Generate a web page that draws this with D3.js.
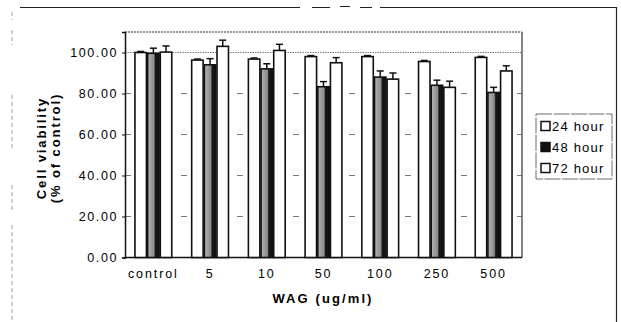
<!DOCTYPE html>
<html>
<head>
<meta charset="utf-8">
<script src="https://cdn.jsdelivr.net/npm/d3@7"></script>
<style>
  body { margin: 0; background: #fff; }
  text { font-family: "Liberation Sans", Arial, sans-serif; fill: #000; }
</style>
</head>
<body>
<div id="chart"></div>
<script>
// data
const categories = ["control", "5", "10", "50", "100", "250", "500"];
const seriesNames = ["24 hour", "48 hour", "72 hour"];
const values24 = [100.0, 96.3, 96.8, 98.0, 98.0, 95.6, 97.6];
const values48 = [99.6, 94.0, 92.0, 83.3, 88.0, 84.0, 80.5];
const values72 = [100.2, 103.0, 101.0, 95.0, 87.0, 83.0, 91.0];
const err24 = [0.5, 0.5, 0.5, 0.5, 0.5, 0.5, 0.5];
const err48 = [2.5, 3.0, 2.5, 2.5, 3.0, 2.5, 2.5];
const err72 = [3.0, 3.0, 3.0, 2.5, 3.0, 3.0, 2.5];
const yTicks = [0, 20, 40, 60, 80, 100];

const width = 621, height = 322;
const plot = { left: 125, right: 522, top: 32, bottom: 257.5 };

const svg = d3.select("#chart").append("svg")
  .attr("width", width)
  .attr("height", height);

// stippled gray fill with dark right edge for the 48 hour bars
const defs = svg.append("defs");
const grad = defs.append("linearGradient").attr("id", "g48")
  .attr("x1", "0").attr("x2", "1").attr("y1", "0").attr("y2", "0");
grad.append("stop").attr("offset", "0").attr("stop-color", "#b4b4b4");
grad.append("stop").attr("offset", "0.55").attr("stop-color", "#8c8c8c");
grad.append("stop").attr("offset", "0.68").attr("stop-color", "#151515");
grad.append("stop").attr("offset", "1").attr("stop-color", "#151515");

// scan frame lines around the figure
const frame = svg.append("g").attr("stroke", "#222").attr("fill", "none");
frame.append("path").attr("d", "M20,7.5H300M312,7.5H330M340,6.5H350M360,7.5H372M380,7.5H617").attr("stroke-width", 1);
frame.append("path").attr("d", "M616.5,7V322").attr("stroke-width", 1.2);
frame.append("path").attr("d", "M12,12V20M12,30V45M12,95V150M12,185V210M12,225V322")
  .attr("stroke-width", 0.7).attr("stroke-dasharray", "4,3").attr("stroke", "#777");

// scales
const x = d3.scaleBand()
  .domain(categories)
  .range([plot.left, plot.right])
  .paddingInner(0.33)
  .paddingOuter(0.165);

const x1 = d3.scaleBand()
  .domain(seriesNames)
  .range([0, x.bandwidth()]);

const y = d3.scaleLinear()
  .domain([0, 110])
  .range([plot.bottom, plot.top]);

// plot box: dotted top, solid right
svg.append("path")
  .attr("d", `M${plot.left},${plot.top}H${plot.right}`)
  .attr("stroke", "#333").attr("stroke-width", 1.2).attr("stroke-dasharray", "2,1");
svg.append("path")
  .attr("d", `M${plot.right},${plot.top}V${plot.bottom}`)
  .attr("stroke", "#333").attr("stroke-width", 1.2);

// gridlines
svg.append("g")
  .selectAll("line")
  .data(yTicks.filter(d => d > 0))
  .enter()
  .append("line")
  .attr("x1", plot.left).attr("x2", plot.right)
  .attr("y1", d => y(d)).attr("y2", d => y(d))
  .attr("stroke", "#555").attr("stroke-width", 0.8)
  .attr("stroke-dasharray", d => d === 100 ? "1.5,1" : "6,22");

// y axis
const yAxis = svg.append("g")
  .attr("transform", `translate(${plot.left},0)`)
  .call(d3.axisLeft(y).tickValues(yTicks).tickFormat(d3.format(".2f")).tickSize(3).tickPadding(4));
yAxis.select(".domain").attr("stroke", "#111").attr("stroke-width", 1.5);
yAxis.selectAll(".tick line").attr("stroke", "#111");
yAxis.selectAll("text")
  .style("font-size", "12.5px")
  .style("letter-spacing", "1.6px")
  .attr("fill", "#000");

// x axis
const xAxis = svg.append("g")
  .attr("transform", `translate(0,${plot.bottom})`)
  .call(d3.axisBottom(x).tickSize(0).tickPadding(12));
xAxis.select(".domain").attr("stroke", "#111").attr("stroke-width", 1.5)
  .attr("d", `M${plot.left},0H${plot.right}`);
xAxis.selectAll("text")
  .style("font-size", "12.5px")
  .style("letter-spacing", "1.9px")
  .attr("fill", "#000");

// bars
const rows = categories.map((c, i) => ({
  cat: c,
  items: [
    { s: seriesNames[0], v: values24[i], e: err24[i] },
    { s: seriesNames[1], v: values48[i], e: err48[i] },
    { s: seriesNames[2], v: values72[i], e: err72[i] }
  ]
}));

const groups = svg.selectAll(".grp")
  .data(rows)
  .enter()
  .append("g")
  .attr("class", "grp")
  .attr("transform", d => `translate(${x(d.cat)},0)`);

const barPad = 0.6;
groups.selectAll("rect")
  .data(d => d.items)
  .enter()
  .append("rect")
  .attr("x", d => x1(d.s) + barPad)
  .attr("y", d => y(d.v))
  .attr("width", x1.bandwidth() - barPad * 2)
  .attr("height", d => y(0) - y(d.v))
  .attr("fill", d => d.s === "48 hour" ? "url(#g48)" : "#fff")
  .attr("stroke", "#111")
  .attr("stroke-width", 1.6);

// error bars (upper whiskers)
const capW = 3.5;
const eb = groups.selectAll(".eb")
  .data(d => d.items)
  .enter()
  .append("g")
  .attr("class", "eb")
  .attr("stroke", "#111")
  .attr("stroke-width", 1.5);
eb.append("line")
  .attr("x1", d => x1(d.s) + x1.bandwidth() / 2)
  .attr("x2", d => x1(d.s) + x1.bandwidth() / 2)
  .attr("y1", d => y(d.v))
  .attr("y2", d => y(d.v + d.e));
eb.append("line")
  .attr("x1", d => x1(d.s) + x1.bandwidth() / 2 - capW)
  .attr("x2", d => x1(d.s) + x1.bandwidth() / 2 + capW)
  .attr("y1", d => y(d.v + d.e))
  .attr("y2", d => y(d.v + d.e));

// axis titles
const yTitle = svg.append("g")
  .attr("transform", "translate(46,148) rotate(-90)");
yTitle.append("text")
  .attr("text-anchor", "middle")
  .style("font-size", "13px").style("font-weight", "bold").style("letter-spacing", "1.9px")
  .text("Cell viability");
yTitle.append("text")
  .attr("y", 14)
  .attr("text-anchor", "middle")
  .style("font-size", "13px").style("font-weight", "bold").style("letter-spacing", "1.9px")
  .text("(% of control)");

svg.append("text")
  .attr("x", 323).attr("y", 303)
  .attr("text-anchor", "middle")
  .style("font-size", "13px").style("font-weight", "bold").style("letter-spacing", "2.1px")
  .text("WAG (ug/ml)");

// legend
const legend = svg.append("g").attr("transform", "translate(536,114)");
legend.append("rect")
  .attr("width", 76).attr("height", 65)
  .attr("fill", "#fff").attr("stroke", "#444").attr("stroke-width", 0.8)
  .attr("stroke-dasharray", "16,1.5");
const legendFill = ["#fff", "#111", "#fff"];
const li = legend.selectAll(".li")
  .data(seriesNames)
  .enter()
  .append("g")
  .attr("class", "li")
  .attr("transform", (d, i) => `translate(5,${12 + i * 21})`);
li.append("rect")
  .attr("x", 0).attr("y", -4.5)
  .attr("width", 9).attr("height", 9)
  .attr("fill", (d, i) => legendFill[i])
  .attr("stroke", "#111").attr("stroke-width", 1.5);
li.append("text")
  .attr("x", 11).attr("y", 5)
  .style("font-size", "13px").style("letter-spacing", "1.2px")
  .text(d => d);
</script>
</body>
</html>
